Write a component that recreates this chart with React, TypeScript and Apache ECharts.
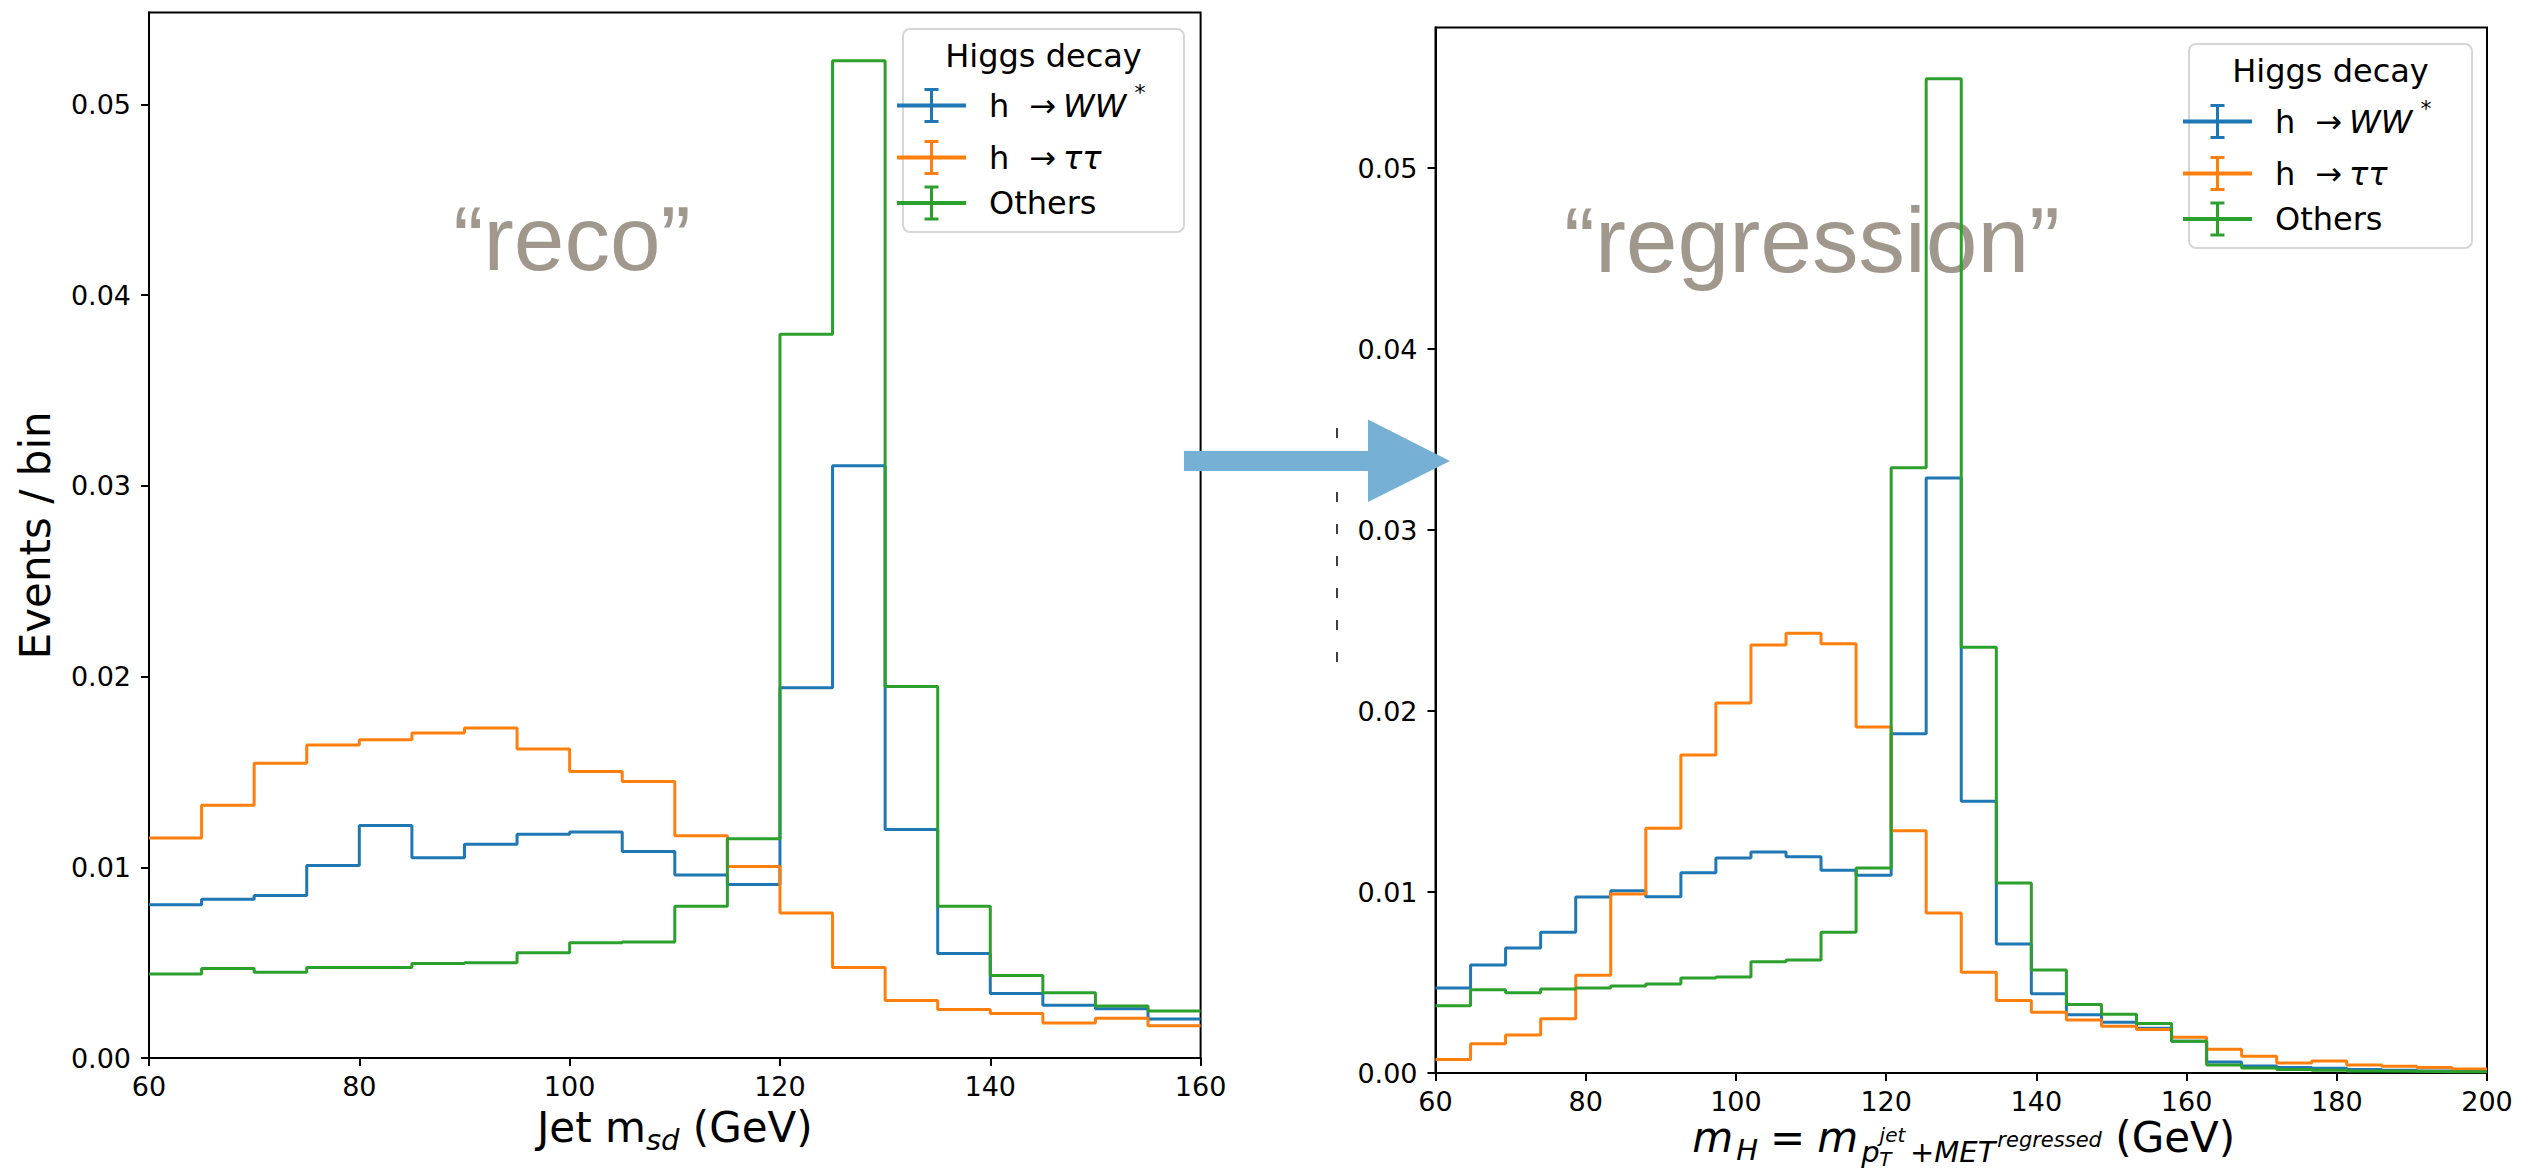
import React, { useEffect, useRef } from "react";
import * as echarts from "echarts";

const FONT = "DejaVu Sans";
const SERIES_NAMES = ["h →WW*", "h →ττ", "Others"];
const COLORS = ["#1f77b4", "#ff7f0e", "#2ca02c"];
const Y_TICK_LABELS = ["0.00", "0.01", "0.02", "0.03", "0.04", "0.05"];

// Left panel ("reco"): Jet m_sd, 5 GeV bins
const recoEdges = [60, 65, 70, 75, 80, 85, 90, 95, 100, 105, 110, 115, 120, 125, 130, 135, 140, 145, 150, 155, 160];
const recoWW = [0.00804, 0.00833, 0.00852, 0.0101, 0.01219, 0.0105, 0.01121, 0.01173, 0.01185, 0.01083, 0.0096, 0.0091, 0.01942, 0.03106, 0.01198, 0.00548, 0.00338, 0.00277, 0.00258, 0.00204];
const recoTauTau = [0.01154, 0.01325, 0.01546, 0.01642, 0.01669, 0.01704, 0.01731, 0.01621, 0.01502, 0.0145, 0.01165, 0.01004, 0.0076, 0.00475, 0.00302, 0.00254, 0.00233, 0.00183, 0.00208, 0.00169];
const recoOthers = [0.0044, 0.00469, 0.0045, 0.00475, 0.00475, 0.00496, 0.005, 0.00552, 0.00604, 0.00608, 0.00796, 0.0115, 0.03795, 0.05229, 0.01948, 0.00796, 0.00433, 0.00342, 0.00273, 0.00246];

// Right panel ("regression"): 30 bins from 60 to 200 GeV
const regEdges = [60, 64.67, 69.33, 74, 78.67, 83.33, 88, 92.67, 97.33, 102, 106.67, 111.33, 116, 120.67, 125.33, 130, 134.67, 139.33, 144, 148.67, 153.33, 158, 162.67, 167.33, 172, 176.67, 181.33, 186, 190.67, 195.33, 200];
const regWW = [0.0047, 0.00597, 0.00691, 0.00777, 0.00972, 0.01007, 0.00974, 0.01107, 0.01188, 0.01221, 0.01195, 0.0112, 0.01092, 0.01875, 0.03287, 0.01501, 0.00713, 0.00438, 0.00322, 0.0028, 0.00247, 0.00175, 0.00061, 0.00039, 0.00031, 0.00026, 0.0002, 0.00015, 0.00011, 0.00009];
const regTauTau = [0.00074, 0.00162, 0.0021, 0.003, 0.0054, 0.00989, 0.01352, 0.01757, 0.02044, 0.02365, 0.02429, 0.02372, 0.01912, 0.01339, 0.00884, 0.00556, 0.004, 0.00335, 0.00293, 0.00258, 0.00241, 0.00197, 0.00131, 0.00092, 0.00055, 0.00066, 0.00044, 0.00037, 0.00031, 0.00022];
const regOthers = [0.00372, 0.0046, 0.00444, 0.00464, 0.0047, 0.00481, 0.00492, 0.00525, 0.0053, 0.00615, 0.00624, 0.00777, 0.01133, 0.03344, 0.05494, 0.02352, 0.0105, 0.00569, 0.00379, 0.00324, 0.00274, 0.00175, 0.00044, 0.00028, 0.0002, 0.00015, 0.00011, 0.00009, 0.00007, 0.00007];

const steps = (edges: number[], vals: number[]) =>
  vals.map((v, i) => [edges[i], v]).concat([[edges[vals.length], vals[vals.length - 1]]]);

const yFmt = (v: number) => {
  const i = Math.round(v / 0.01);
  return Math.abs(v - i * 0.01) < 1e-9 ? Y_TICK_LABELS[i] ?? "" : "";
};

const ERR_ICON = "path://M0,15.5h69v4h-69Z M33,0h3v35h-3Z M27.5,0h14v3h-14Z M27.5,32h14v3h-14Z";

const legendRich = {
  r: { fontSize: 32, fontFamily: FONT, color: "#000", lineHeight: 35 },
  ar: { fontSize: 32, fontFamily: FONT, color: "#000", lineHeight: 35, padding: [0, 0, 0, 20] },
  it: { fontSize: 32, fontFamily: FONT, fontStyle: "italic", color: "#000", lineHeight: 35, padding: [0, 0, 0, 7] },
  sup: { fontSize: 22, fontFamily: FONT, color: "#000", lineHeight: 35, padding: [0, 0, 26, 8] },
};

const legendFormatter = (name: string) => {
  if (name === SERIES_NAMES[0]) return "{r|h}{ar|→}{it|WW}{sup|*}";
  if (name === SERIES_NAMES[1]) return "{r|h}{ar|→}{it|ττ}";
  return "{r|" + name + "}";
};

const axisCommon = {
  axisLine: { show: true, onZero: false, lineStyle: { color: "#000", width: 2 } },
  axisTick: { show: true, inside: false, length: 8, lineStyle: { color: "#000", width: 2 } },
  splitLine: { show: false },
  nameMoveOverlap: false,
};

const App: React.FC = () => {
  const ref = useRef<HTMLDivElement>(null);

  useEffect(() => {
    if (!ref.current) return;
    const chart = echarts.init(ref.current, null, { renderer: "svg" });

    const datasets = [
      [recoWW, recoTauTau, recoOthers],
      [regWW, regTauTau, regOthers],
    ];
    const edges = [recoEdges, regEdges];
    const series: any[] = [];
    for (let g = 0; g < 2; g++) {
      for (let k = 0; k < 3; k++) {
        series.push({
          type: "line",
          name: SERIES_NAMES[k],
          xAxisIndex: g,
          yAxisIndex: g,
          data: steps(edges[g], datasets[g][k]),
          step: "end",
          symbol: "none",
          showSymbol: false,
          color: COLORS[k],
          itemStyle: { color: COLORS[k] },
          lineStyle: { color: COLORS[k], width: 3 },
          z: 2,
          silent: true,
        });
      }
    }

    const legendBase = {
      data: SERIES_NAMES,
      orient: "vertical",
      itemWidth: 105,
      itemHeight: 35,
      itemGap: 10.5,
      icon: ERR_ICON,
      selectedMode: false,
      padding: 0,
      z: 4,
      itemStyle: { borderWidth: 0 },
      textStyle: { fontFamily: FONT, fontSize: 32, color: "#000", rich: legendRich },
      formatter: legendFormatter,
    };

    const gridCommon = {
      show: true,
      borderColor: "#000",
      borderWidth: 2,
      backgroundColor: "transparent",
      containLabel: false,
      outerBoundsMode: "none",
    };

    const option: any = {
      animation: false,
      backgroundColor: "#fff",
      grid: [
        { ...gridCommon, left: 149, top: 12.6, width: 1051.6, height: 1045.4 },
        { ...gridCommon, left: 1435.5, top: 27.6, width: 1051.5, height: 1045.4 },
      ],
      xAxis: [
        {
          ...axisCommon,
          type: "value",
          gridIndex: 0,
          min: 60,
          max: 160,
          interval: 20,
          axisLabel: { fontSize: 27, fontFamily: FONT, color: "#000", margin: 15 },
          name: "{a|Jet m}{s|sd}{a| (GeV)}",
          nameLocation: "middle",
          nameGap: 45.5,
          nameTextStyle: {
            rich: {
              a: { fontSize: 42, fontFamily: FONT, color: "#000", lineHeight: 48 },
              s: { fontSize: 29, fontFamily: FONT, fontStyle: "italic", color: "#000", lineHeight: 48, padding: [25, 0, 0, 0] },
            },
          },
        },
        {
          ...axisCommon,
          type: "value",
          gridIndex: 1,
          min: 60,
          max: 200,
          interval: 20,
          axisLabel: { fontSize: 27, fontFamily: FONT, color: "#000", margin: 15 },
          name: "{mi|m}{s1|H}{eq|=}{mi|m}{s2p|p}{jet|jet}{tt|T}{pl|+}{s2|MET}{rg|regressed}{a| (GeV)}",
          nameLocation: "middle",
          nameGap: 40.5,
          nameTextStyle: {
            padding: [0, 0, 0, 5],
            rich: {
              mi: { fontSize: 42, fontFamily: FONT, fontStyle: "italic", color: "#000", lineHeight: 48 },
              s1: { fontSize: 29, fontFamily: FONT, fontStyle: "italic", color: "#000", lineHeight: 48, padding: [24, 0, 0, 3] },
              eq: { fontSize: 42, fontFamily: FONT, color: "#000", lineHeight: 48, padding: [0, 12, 0, 12] },
              s2p: { fontSize: 29, fontFamily: FONT, fontStyle: "italic", color: "#000", lineHeight: 48, padding: [28, 0, 0, 3] },
              s2: { fontSize: 29, fontFamily: FONT, fontStyle: "italic", color: "#000", lineHeight: 48, padding: [28, 0, 0, 0] },
              pl: { fontSize: 29, fontFamily: FONT, color: "#000", lineHeight: 48, padding: [28, 0, 0, 0] },
              jet: { fontSize: 20, fontFamily: FONT, fontStyle: "italic", color: "#000", lineHeight: 48, padding: [0, -26, 6, 0] },
              tt: { fontSize: 20, fontFamily: FONT, fontStyle: "italic", color: "#000", lineHeight: 48, padding: [42, 18.5, 0, 0] },
              rg: { fontSize: 21, fontFamily: FONT, fontStyle: "italic", color: "#000", lineHeight: 48, padding: [4, 0, 0, 2] },
              a: { fontSize: 42, fontFamily: FONT, color: "#000", lineHeight: 48 },
            },
          },
        },
      ],
      yAxis: [
        {
          ...axisCommon,
          type: "value",
          gridIndex: 0,
          min: 0,
          max: 0.05482,
          interval: 0.01,
          axisLabel: { fontSize: 27, fontFamily: FONT, color: "#000", margin: 18, formatter: yFmt, showMaxLabel: false },
          name: "Events / bin",
          nameLocation: "middle",
          nameRotate: 90,
          nameGap: 89.5,
          nameTextStyle: { fontSize: 42, fontFamily: FONT, color: "#000", lineHeight: 48 },
        },
        {
          ...axisCommon,
          type: "value",
          gridIndex: 1,
          min: 0,
          max: 0.05776,
          interval: 0.01,
          axisLabel: { fontSize: 27, fontFamily: FONT, color: "#000", margin: 18, formatter: yFmt, showMaxLabel: false },
        },
      ],
      legend: [
        { ...legendBase, left: 897, top: 81.5 },
        { ...legendBase, left: 2183, top: 97.5 },
      ],
      graphic: [
        {
          type: "text",
          x: 572,
          y: 238.5,
          z: 1,
          silent: true,
          style: { text: "“reco”", fill: "#a0988c", fontSize: 91, fontFamily: "Liberation Sans", textAlign: "center", textVerticalAlign: "middle", align: "center", verticalAlign: "middle" },
        },
        {
          type: "text",
          x: 1812,
          y: 240,
          z: 1,
          silent: true,
          style: { text: "“regression”", fill: "#a0988c", fontSize: 93, fontFamily: "Liberation Sans", textAlign: "center", textVerticalAlign: "middle", align: "center", verticalAlign: "middle" },
        },
        {
          type: "rect",
          z: 3,
          silent: true,
          shape: { x: 903, y: 29, width: 281, height: 203, r: 7 },
          style: { fill: "rgba(255,255,255,0.8)", stroke: "#d6d6d6", lineWidth: 2 },
        },
        {
          type: "rect",
          z: 3,
          silent: true,
          shape: { x: 2189, y: 44, width: 283, height: 204, r: 7 },
          style: { fill: "rgba(255,255,255,0.8)", stroke: "#d6d6d6", lineWidth: 2 },
        },
        {
          type: "text",
          x: 1043.5,
          y: 56,
          z: 5,
          silent: true,
          style: { text: "Higgs decay", fill: "#000", fontSize: 32, fontFamily: FONT, textAlign: "center", textVerticalAlign: "middle", align: "center", verticalAlign: "middle" },
        },
        {
          type: "text",
          x: 2330.5,
          y: 71,
          z: 5,
          silent: true,
          style: { text: "Higgs decay", fill: "#000", fontSize: 32, fontFamily: FONT, textAlign: "center", textVerticalAlign: "middle", align: "center", verticalAlign: "middle" },
        },
        {
          type: "line",
          z: 10,
          silent: true,
          shape: { x1: 1337, y1: 428, x2: 1337, y2: 670 },
          style: { stroke: "#000", lineWidth: 1.5, lineDash: [10, 22] },
        },
        {
          type: "polygon",
          z: 20,
          silent: true,
          shape: {
            points: [
              [1184, 451],
              [1368, 451],
              [1368, 419.5],
              [1450, 461],
              [1368, 502],
              [1368, 471],
              [1184, 471],
            ],
          },
          style: { fill: "#76b0d4" },
        },
      ],
      series,
    };

    chart.setOption(option);
    return () => chart.dispose();
  }, []);

  return (
    <div
      ref={ref}
      style={{ position: "absolute", left: 0, top: 0, width: 2543, height: 1171, background: "#fff" }}
    />
  );
};

export default App;
